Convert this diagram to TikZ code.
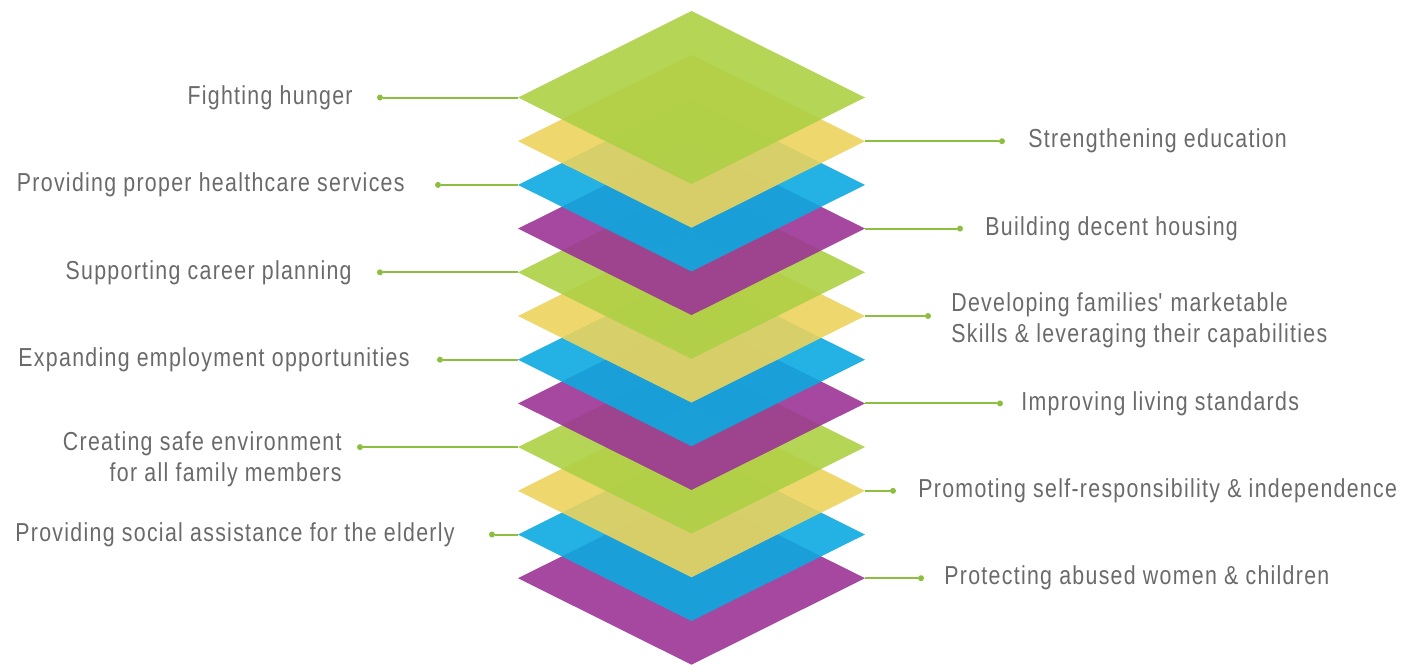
\documentclass[tikz,border=0pt]{standalone}
\usepackage{fontspec}
\setmainfont[FakeStretch=0.82,LetterSpace=5]{Liberation Sans}
\usetikzlibrary{shapes.geometric,positioning}

\definecolor{layergreen}{HTML}{ADD045}
\definecolor{layeryellow}{HTML}{ECD45E}
\definecolor{layerblue}{HTML}{0CA9E0}
\definecolor{layerpurple}{HTML}{9C3495}
\definecolor{linkgreen}{HTML}{8CBF3F}
\definecolor{labelgray}{HTML}{6A6A6A}

\tikzset{
  layer/.style={diamond, minimum width=347pt, minimum height=173pt, inner sep=0pt, outer sep=0pt, fill opacity=0.9},
  lbl/.style={text=labelgray, font=\fontsize{26}{31}\selectfont, inner sep=0pt},
  pin/.style={circle, fill=linkgreen, inner sep=0pt, minimum size=6pt},
  link/.style={linkgreen, line width=2pt},
}

\begin{document}
\begin{tikzpicture}[x=1pt,y=-1pt]
\useasboundingbox (0,0) rectangle (1416,664);
% the stack, bottom layer first
\foreach \k/\c in {11/layerpurple,10/layerblue,9/layeryellow,8/layergreen,7/layerpurple,6/layerblue,5/layeryellow,4/layergreen,3/layerpurple,2/layerblue,1/layeryellow,0/layergreen}
  \node[layer, fill=\c] (L\k) at (691.5, 97.5+43.7*\k) {};

% left side
\node[pin] (d0) at (380,0 |- L0.west) {};
\node[lbl, left=24pt of d0] (t0) {Fighting hunger};
\draw[link] (d0) -- (L0.west);

\node[pin] (d2) at (438,0 |- L2.west) {};
\node[lbl, left=30pt of d2] (t2) {Providing proper healthcare services};
\draw[link] (d2) -- (L2.west);

\node[pin] (d4) at (380,0 |- L4.west) {};
\node[lbl, left=25pt of d4] (t4) {Supporting career planning};
\draw[link] (d4) -- (L4.west);

\node[pin] (d6) at (440,0 |- L6.west) {};
\node[lbl, left=27pt of d6] (t6) {Expanding employment opportunities};
\draw[link] (d6) -- (L6.west);

\node[pin] (d8) at (360,0 |- L8.west) {};
\node[lbl, align=right, left=15pt of d8, yshift=-12pt] (t8) {Creating safe environment\\for all family members};
\draw[link] (d8) -- (L8.west);

\node[pin] (d10) at (492,0 |- L10.west) {};
\node[lbl, left=34pt of d10] (t10) {Providing social assistance for the elderly};
\draw[link] (d10) -- (L10.west);

% right side
\node[pin] (d1) at (1002,0 |- L1.east) {};
\node[lbl, right=23pt of d1] (t1) {Strengthening education};
\draw[link] (L1.east) -- (d1);

\node[pin] (d3) at (960,0 |- L3.east) {};
\node[lbl, right=22pt of d3] (t3) {Building decent housing};
\draw[link] (L3.east) -- (d3);

\node[pin] (d5) at (928,0 |- L5.east) {};
\node[lbl, align=left, right=20pt of d5, yshift=-4pt] (t5) {Developing families\textquotesingle{} marketable\\Skills \& leveraging their capabilities};
\draw[link] (L5.east) -- (d5);

\node[pin] (d7) at (1000,0 |- L7.east) {};
\node[lbl, right=18pt of d7] (t7) {Improving living standards};
\draw[link] (L7.east) -- (d7);

\node[pin] (d9) at (893,0 |- L9.east) {};
\node[lbl, right=22pt of d9] (t9) {Promoting self-responsibility \& independence};
\draw[link] (L9.east) -- (d9);

\node[pin] (d11) at (921,0 |- L11.east) {};
\node[lbl, right=20pt of d11] (t11) {Protecting abused women \& children};
\draw[link] (L11.east) -- (d11);
\end{tikzpicture}
\end{document}
